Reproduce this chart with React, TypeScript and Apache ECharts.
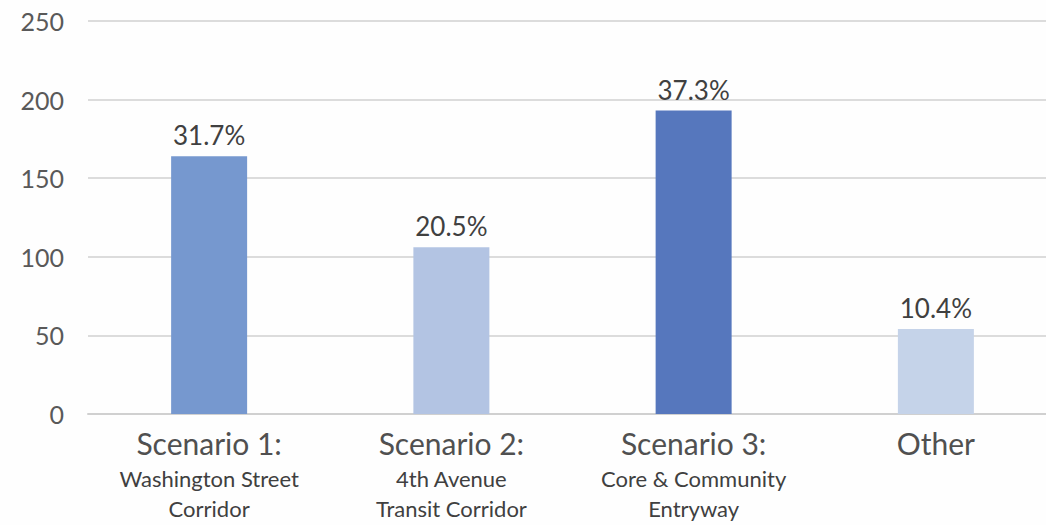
import React, { useEffect, useRef } from "react";
import * as echarts from "echarts";

const titles = ["Scenario 1:", "Scenario 2:", "Scenario 3:", "Other"];
const subtitles = [
  ["Washington Street", "Corridor"],
  ["4th Avenue", "Transit Corridor"],
  ["Core & Community", "Entryway"],
  [],
];
const values = [164, 106, 193, 54];
const percentLabels = ["31.7%", "20.5%", "37.3%", "10.4%"];
const barColors = ["#7698CF", "#B3C4E3", "#5677BD", "#C5D3E9"];
const yTicks = { min: 0, max: 250, interval: 50 };

const FONT = "Lato, 'Open Sans', sans-serif";

export default function App() {
  const ref = useRef<HTMLDivElement>(null);
  useEffect(() => {
    if (!ref.current) return;
    const chart = echarts.init(ref.current, undefined, { renderer: "svg" });
    chart.setOption({
      animation: false,
      backgroundColor: "#FEFEFE",
      grid: { left: 88, right: 0, top: 21, bottom: 111, containLabel: false },
      xAxis: {
        type: "category",
        data: titles,
        axisLine: { lineStyle: { color: "#D0D0D0", width: 2 } },
        axisTick: { show: false },
        axisLabel: {
          interval: 0,
          margin: 9,
          formatter: (v: string, i: number) => {
            const lines = [`{a|${v}}`];
            subtitles[i].forEach((s) => lines.push(`{b|${s}}`));
            return lines.join("\n");
          },
          rich: {
            a: { fontFamily: FONT, fontSize: 30, color: "#505050", lineHeight: 40 },
            b: { fontFamily: FONT, fontSize: 22, color: "#404040", lineHeight: 30 },
          },
        },
      },
      yAxis: {
        type: "value",
        min: yTicks.min,
        max: yTicks.max,
        interval: yTicks.interval,
        axisLine: { show: false },
        axisTick: { show: false },
        splitLine: { lineStyle: { color: "#DCDCDC", width: 2 } },
        axisLabel: {
          fontFamily: FONT,
          fontSize: 25,
          color: "#595959",
          margin: 24,
        },
      },
      series: [
        {
          type: "bar",
          barWidth: 76,
          data: values.map((v, i) => ({ value: v, itemStyle: { color: barColors[i] } })),
          label: {
            show: true,
            position: "top",
            distance: 8,
            fontFamily: FONT,
            fontSize: 26,
            color: "#404040",
            formatter: (p: any) => percentLabels[p.dataIndex],
          },
        },
      ],
    });
    return () => chart.dispose();
  }, []);
  return (
    <div
      style={{ position: "absolute", left: 0, top: 0, width: 1046, height: 525, overflow: "hidden" }}
    >
      <div ref={ref} style={{ width: 1057, height: 525 }} />
    </div>
  );
}
